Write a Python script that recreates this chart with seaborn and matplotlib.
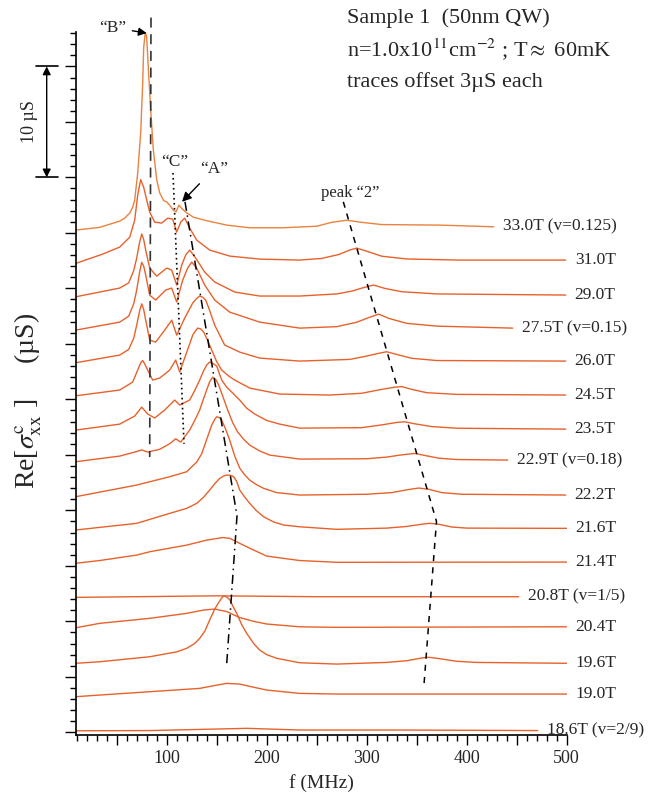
import matplotlib
matplotlib.use('Agg')
import matplotlib.pyplot as plt
import seaborn as sns
import pandas as pd
from matplotlib.ticker import MultipleLocator, FuncFormatter

sns.set_theme(style='ticks')
plt.rcParams['font.family'] = ['Liberation Serif', 'DejaVu Serif']
plt.rcParams['mathtext.fontset'] = 'stix'

# trace labels, bottom to top (offset 3 uS each)
fields = ['18.6T (v=2/9)', '19.0T', '19.6T', '20.4T', '20.8T (v=1/5)', '21.4T', '21.6T',
          '22.2T', '22.9T (v=0.18)', '23.5T', '24.5T', '26.0T', '27.5T (v=0.15)',
          '29.0T', '31.0T', '33.0T (v=0.125)']
offset_step = 3.0

# frequency (MHz) / Re[sigma] (uS, without offset)
f_186 = [9, 83, 180, 233, 333, 471]
s_186 = [0.14, 0.16, 0.36, 0.21, 0.21, 0.16]

f_190 = [9, 33, 83, 133, 150, 160, 173, 185, 200, 233, 270, 333, 500]
s_190 = [0.21, 0.36, 0.66, 0.96, 1.25, 1.41, 1.35, 1.1, 0.81, 0.51, 0.45, 0.45, 0.45]

f_196 = [9, 33, 83, 110, 120, 128, 133, 138, 143, 148, 152, 155, 157, 160, 163, 166, 170, 175, 180, 187, 193,
         200, 210, 233, 270, 320, 340, 355, 362, 372, 390, 410, 500]
s_196 = [0.22, 0.36, 0.81, 1.25, 1.57, 2.0, 2.47, 3.1, 4.12, 5.1, 5.7, 6.1, 6.28, 6.2, 5.95, 5.4, 4.72, 3.7,
         2.92, 2.0, 1.41, 1.0, 0.67, 0.27, 0.15, 0.3, 0.45, 0.7, 0.76, 0.65, 0.4, 0.3, 0.22]

f_204 = [9, 33, 83, 120, 137, 148, 160, 173, 187, 200, 233, 270, 500]
s_204 = [0.42, 0.82, 1.27, 1.72, 2.02, 2.11, 1.88, 1.34, 1.0, 0.76, 0.51, 0.46, 0.51]

f_208 = [9, 150, 250, 452]
s_208 = [0.16, 0.3, 0.22, 0.22]

f_214 = [9, 33, 70, 83, 120, 140, 156, 163, 173, 187, 200, 233, 270, 500]
s_214 = [0.23, 0.48, 0.97, 1.27, 1.87, 2.32, 2.55, 2.48, 2.03, 1.42, 0.88, 0.48, 0.32, 0.34]

f_216 = [9, 70, 103, 120, 130, 137, 143, 148, 153, 157, 160, 164, 167, 170, 173, 178, 183, 190, 197, 207, 217,
         233, 270, 320, 340, 355, 363, 372, 385, 400, 500]
s_216 = [0.23, 0.83, 1.73, 2.18, 2.63, 3.2, 3.83, 4.4, 4.88, 5.1, 5.18, 5.15, 5.03, 4.6, 3.83, 3.2, 2.63, 1.95,
         1.42, 0.95, 0.68, 0.52, 0.29, 0.4, 0.55, 0.75, 0.83, 0.75, 0.5, 0.4, 0.38]

f_222 = [9, 70, 103, 120, 130, 135, 138, 142, 145, 148, 150, 153, 155, 159, 163, 168, 173, 178, 183, 190, 197,
         210, 233, 300, 325, 340, 352, 362, 375, 395, 499]
s_222 = [0.23, 1.28, 2.03, 2.48, 3.35, 4.1, 4.88, 5.9, 6.68, 7.2, 7.43, 7.35, 7.13, 6.3, 5.33, 3.9, 2.81, 2.2,
         1.73, 1.3, 0.98, 0.6, 0.38, 0.45, 0.6, 0.85, 1.01, 0.9, 0.6, 0.45, 0.38]

f_229 = [9, 53, 68, 75, 81, 93, 103, 109, 114, 123, 128, 133, 137, 140, 143, 146, 149, 152, 156, 161, 166, 171,
         177, 183, 193, 203, 233, 300, 320, 335, 348, 358, 372, 390, 441]
s_229 = [0.38, 0.89, 1.25, 1.45, 1.25, 1.5, 2.0, 2.45, 2.15, 3.24, 4.1, 5.04, 6.1, 6.85, 7.6, 8.0, 7.8, 7.29,
         6.3, 5.04, 3.9, 3.06, 2.4, 1.88, 1.35, 0.98, 0.62, 0.65, 0.8, 1.0, 1.13, 0.95, 0.7, 0.58, 0.53]

f_235 = [9, 53, 68, 75, 81, 88, 98, 108, 113, 123, 128, 133, 137, 140, 143, 146, 150, 155, 160, 165, 173, 180,
         188, 200, 213, 233, 295, 315, 330, 338, 348, 365, 390, 499]
s_235 = [0.23, 0.77, 1.5, 2.3, 1.68, 1.32, 2.04, 2.94, 2.49, 2.94, 3.8, 4.74, 5.6, 6.1, 6.36, 6.25, 6.0, 4.74,
         4.1, 3.66, 2.94, 2.2, 1.68, 1.1, 0.77, 0.41, 0.45, 0.7, 0.92, 0.98, 0.8, 0.55, 0.4, 0.32]

f_245 = [9, 53, 66, 71, 74, 76, 78, 81, 86, 93, 103, 109, 113, 119, 123, 126, 129, 131, 134, 137, 141, 145, 150,
         155, 162, 168, 183, 213, 263, 295, 315, 328, 335, 345, 360, 390, 499]
s_245 = [0.32, 0.84, 1.56, 2.64, 3.3, 3.5, 3.2, 2.64, 1.74, 1.92, 2.64, 3.54, 2.46, 3.99, 5.0, 5.79, 6.2, 6.42,
         6.35, 6.06, 5.3, 4.44, 3.4, 2.64, 2.1, 1.74, 1.02, 0.48, 0.39, 0.55, 0.9, 1.1, 1.15, 0.9, 0.6, 0.45, 0.39]

f_260 = [9, 53, 62, 67, 70, 73, 75, 77, 79, 83, 89, 98, 105, 110, 118, 126, 130, 133, 136, 139, 143, 148, 158,
         173, 193, 233, 283, 300, 312, 320, 330, 345, 370, 499]
s_260 = [0.3, 0.99, 1.5, 2.5, 3.69, 5.0, 5.6, 5.1, 4.14, 2.34, 2.16, 3.24, 4.14, 2.79, 4.32, 5.68, 6.1, 6.31,
         6.2, 5.95, 5.0, 3.69, 1.89, 1.26, 0.72, 0.45, 0.6, 0.9, 1.15, 1.29, 1.05, 0.7, 0.5, 0.45]

f_275 = [9, 53, 62, 67, 70, 73, 75, 77, 79, 83, 89, 99, 105, 110, 116, 121, 125, 130, 138, 148, 163, 193, 233,
         270, 290, 303, 312, 322, 340, 370, 446]
s_275 = [0.24, 0.96, 1.5, 2.6, 3.85, 5.5, 6.35, 6.0, 5.2, 3.39, 2.95, 3.85, 4.03, 2.77, 4.75, 5.83, 6.37, 5.83,
         4.3, 2.95, 1.86, 0.96, 0.42, 0.55, 0.95, 1.4, 1.68, 1.3, 0.85, 0.6, 0.42]

f_290 = [9, 53, 62, 67, 70, 73, 75, 77, 79, 83, 90, 100, 105, 110, 115, 119, 123, 129, 138, 148, 168, 193, 233,
         270, 285, 298, 307, 318, 335, 370, 499]
s_290 = [0.24, 1.03, 1.5, 2.6, 3.73, 5.2, 5.9, 5.4, 4.45, 2.83, 2.1, 2.83, 2.65, 1.3, 3.1, 4.0, 4.45, 3.73,
         2.47, 1.57, 0.67, 0.31, 0.31, 0.5, 0.75, 1.1, 1.3, 1.0, 0.7, 0.5, 0.4]

f_310 = [9, 36, 53, 63, 68, 71, 74, 77, 80, 83, 88, 95, 101, 106, 110, 114, 118, 123, 130, 143, 163, 193, 233,
         255, 272, 283, 290, 300, 315, 340, 393, 499]
s_310 = [0.25, 1.09, 1.72, 2.61, 4.15, 6.4, 7.8, 7.11, 5.96, 4.88, 3.97, 3.88, 4.33, 4.24, 3.07, 3.97, 4.33,
         3.43, 2.35, 1.45, 0.91, 0.64, 0.55, 0.7, 1.05, 1.45, 1.63, 1.35, 0.9, 0.65, 0.55, 0.55]

f_330 = [9, 33, 53, 58, 63, 66, 68, 71, 74, 76, 77, 78.6, 80, 81.6, 84, 86.6, 90, 93, 97, 100, 103, 106.6,
         109.3, 112.3, 115, 120, 127, 140, 160, 183, 216, 250, 265, 280, 295, 315, 373, 427]
s_330 = [0.25, 0.5, 1.06, 1.33, 1.78, 2.32, 2.95, 5.4, 9.0, 13.5, 16.7, 18.1, 17.6, 14.9, 11.1, 7.5, 4.8, 3.6,
         2.9, 2.8, 2.5, 2.05, 1.9, 2.5, 2.2, 1.8, 1.4, 1.1, 0.7, 0.46, 0.46, 0.6, 0.95, 1.14, 0.95, 0.75, 0.7, 0.55]

freqs = [f_186, f_190, f_196, f_204, f_208, f_214, f_216, f_222, f_229, f_235, f_245, f_260, f_275, f_290, f_310, f_330]
sigs = [s_186, s_190, s_196, s_204, s_208, s_214, s_216, s_222, s_229, s_235, s_245, s_260, s_275, s_290, s_310, s_330]

rows = []
for i, (lab, ff, ss) in enumerate(zip(fields, freqs, sigs)):
    for a, b in zip(ff, ss):
        rows.append({'field': lab, 'f': a, 'val': b + i * offset_step})
df = pd.DataFrame(rows)

orange = '#E8612B'
palette = {lab: orange for lab in fields}
palette['33.0T (v=0.125)'] = '#E9833F'

fig = plt.figure(figsize=(6.68, 7.95), dpi=100)
ax = fig.add_axes([76 / 668, 1 - 735 / 795, 490.7 / 668, 703 / 795])

sns.lineplot(data=df, x='f', y='val', hue='field', palette=palette, estimator=None,
             sort=False, legend=False, lw=1.0, ax=ax)

ax.set_xlim(9.3, 500)
ax.set_ylim(-0.24, 63.1)
sns.despine(ax=ax)
for s in ['left', 'bottom']:
    ax.spines[s].set_linewidth(1.2)
    ax.spines[s].set_color('black')

ax.xaxis.set_major_locator(MultipleLocator(50))
ax.xaxis.set_minor_locator(MultipleLocator(10))
ax.xaxis.set_major_formatter(FuncFormatter(lambda v, p: '%d' % v if v % 100 == 0 else ''))
ax.yaxis.set_major_locator(MultipleLocator(5))
ax.yaxis.set_minor_locator(MultipleLocator(1))
ax.set_yticklabels([])
ax.tick_params(axis='x', which='major', direction='out', length=7, width=1, color='black',
               labelsize=13, pad=4)
ax.tick_params(axis='x', which='minor', direction='out', length=4, width=1, color='black')
ax.tick_params(axis='y', which='major', direction='out', length=8, width=1, color='black')
ax.tick_params(axis='y', which='minor', direction='out', length=4.5, width=1, color='black')
ax.set_xlabel('f (MHz)', fontsize=14, labelpad=5)
ax.set_ylabel('')

# trace labels at the right end
for i, (lab, ff, ss) in enumerate(zip(fields, freqs, sigs)):
    ax.text(ff[-1] + 9, ss[-1] + i * offset_step, lab, fontsize=12.5, ha='left', va='center',
            clip_on=False)

# guide lines
ax.plot([84.3, 83.0], [64.4, 24.8], color='0.2', lw=1.2, ls=(0, (6, 4)), clip_on=False)
ax.plot([106.3, 117.3], [50.4, 26.0], color='black', lw=1.2, ls=(0, (1, 2)))
ax.plot([118.3, 170.3, 159.8], [47.8, 19.5, 5.9], color='black', lw=1.1, ls=(0, (6, 3, 1, 3)))
ax.plot([276.6, 369.8, 357.3], [47.8, 19.0, 4.3], color='black', lw=1.1, ls=(0, (4, 4)))

ax.annotate('\u201cB\u201d', xy=(80, 63.0), xytext=(46, 63.5), fontsize=12.5, ha='center', va='center',
            annotation_clip=False,
            arrowprops=dict(arrowstyle='-|>', color='black', lw=1, mutation_scale=12, shrinkA=2, shrinkB=0))
ax.text(108, 51.4, '\u201cC\u201d', fontsize=12.5, ha='center', va='center')
ax.annotate('\u201cA\u201d', xy=(115.3, 47.8), xytext=(147.5, 50.8), fontsize=12.5, ha='center', va='center',
            arrowprops=dict(arrowstyle='-|>', color='black', lw=1, mutation_scale=14, shrinkA=4, shrinkB=0))
ax.text(283, 48.6, 'peak \u201c2\u201d', fontsize=12, ha='center', va='center')

# 10 uS scale bar
ax.annotate('', xy=(-20, 60), xytext=(-20, 50), annotation_clip=False,
            arrowprops=dict(arrowstyle='<|-|>', color='black', lw=1, mutation_scale=12, shrinkA=0, shrinkB=0))
ax.plot([-31, -9], [60, 60], color='black', lw=1.2, clip_on=False)
ax.plot([-31, -9], [50, 50], color='black', lw=1.2, clip_on=False)
ax.text(-37.5, 55, '10 \u00b5S', rotation=90, fontsize=13, ha='center', va='center')

fig.text(28 / 668, 1 - 401 / 795, r'Re[$\sigma^{\rm c}_{\rm xx}$ ]     (' + '\u00b5S)', rotation=90,
         fontsize=20, ha='center', va='center')

fig.text(347 / 668, 1 - 18 / 795, 'Sample 1  (50nm QW)', fontsize=16, va='center')
fig.text(347 / 668, 1 - 50 / 795, r'n=1.0x10$^{11}$cm$^{-2}$ ; T$\approx$ 60mK', fontsize=16, va='center')
fig.text(347 / 668, 1 - 82 / 795, 'traces offset 3\u00b5S each', fontsize=16, va='center')

fig.savefig('out.png', dpi=100)
